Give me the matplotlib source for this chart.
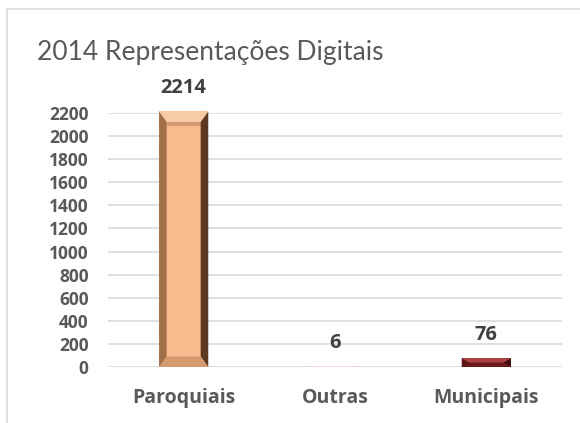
import numpy as np
import matplotlib.pyplot as plt
from matplotlib.patches import Polygon, Rectangle

# data
categories = ['Paroquiais', 'Outras', 'Municipais']
values = [2214, 6, 76]
face_colors = ['#F9BC8E', '#FCE2E2', '#8A2626']
left_colors = ['#A0704A', '#F2C4C4', '#5E1414']
right_colors = ['#5C3A22', '#EDB8B8', '#3E0A0A']
top_colors = ['#F6CCA6', '#FDEEEE', '#A84444']
bottom_colors = ['#D49C6E', '#F4CCCC', '#6A1818']
yticks = list(range(0, 2201, 200))

plt.rcParams['font.family'] = ['Open Sans', 'DejaVu Sans']

fig = plt.figure(figsize=(5.8, 4.23), dpi=100)
# chart border
fig.patches.append(Rectangle((7 / 580, -0.1), 1.2, 1 - 9 / 423 + 0.1,
                             transform=fig.transFigure, fill=False,
                             edgecolor='#D9D9D9', linewidth=1.2))

ax = fig.add_axes([108 / 580, 56 / 423, 454 / 580, 254 / 423])
ax.set_xlim(-0.5, 2.5)
ax.set_ylim(0, 2200)

for y in yticks:
    ax.axhline(y, color='#D9D9D9', linewidth=1.2, zorder=0)

bar_w = 0.325
bx = 0.05    # bevel width in data units
by = 90      # bevel height in data units
for i, v in enumerate(values):
    x0, x1 = i - bar_w / 2, i + bar_w / 2
    h = min(by, v / 2)
    ax.add_patch(Rectangle((x0, 0), bar_w, v, facecolor=face_colors[i],
                           edgecolor='none', zorder=2, clip_on=False))
    ix0, ix1 = x0 + bx, x1 - bx
    # inner shadow under the top bevel
    if v > 4 * by:
        ax.add_patch(Rectangle((ix0, v - h - 40), ix1 - ix0, 40,
                               facecolor=left_colors[i], alpha=0.45,
                               edgecolor='none', zorder=3))
    ax.add_patch(Polygon([(x0, 0), (ix0, h), (ix0, v - h), (x0, v)],
                         facecolor=left_colors[i], edgecolor='none',
                         zorder=3, clip_on=False))
    ax.add_patch(Polygon([(x1, 0), (ix1, h), (ix1, v - h), (x1, v)],
                         facecolor=right_colors[i], edgecolor='none',
                         zorder=3, clip_on=False))
    ax.add_patch(Polygon([(x0, v), (ix0, v - h), (ix1, v - h), (x1, v)],
                         facecolor=top_colors[i], edgecolor='none',
                         zorder=3, clip_on=False))
    ax.add_patch(Polygon([(x0, 0), (ix0, h), (ix1, h), (x1, 0)],
                         facecolor=bottom_colors[i], edgecolor='none',
                         zorder=3, clip_on=False))
    ax.annotate(str(v), (i, v), xytext=(0, 16.5), textcoords='offset points',
                ha='center', va='center', fontsize=14.5, fontweight='bold',
                color='#404040', annotation_clip=False)

for s in ax.spines.values():
    s.set_visible(False)
ax.set_xticks(range(len(categories)))
ax.set_xticklabels(categories, fontsize=14, fontweight='bold', color='#595959')
ax.set_yticks(yticks)
ax.set_yticklabels([str(t) for t in yticks], fontsize=12.5, fontweight='bold',
                   color='#595959')
ax.tick_params(length=0)
ax.tick_params(axis='x', pad=15)
ax.tick_params(axis='y', pad=14)

fig.text(37 / 580, 1 - 60 / 423, '2014 Representações Digitais', fontsize=19,
         family=['Lato', 'DejaVu Sans'], color='#595959', ha='left',
         va='baseline')

fig.savefig('out.png', dpi=100)
